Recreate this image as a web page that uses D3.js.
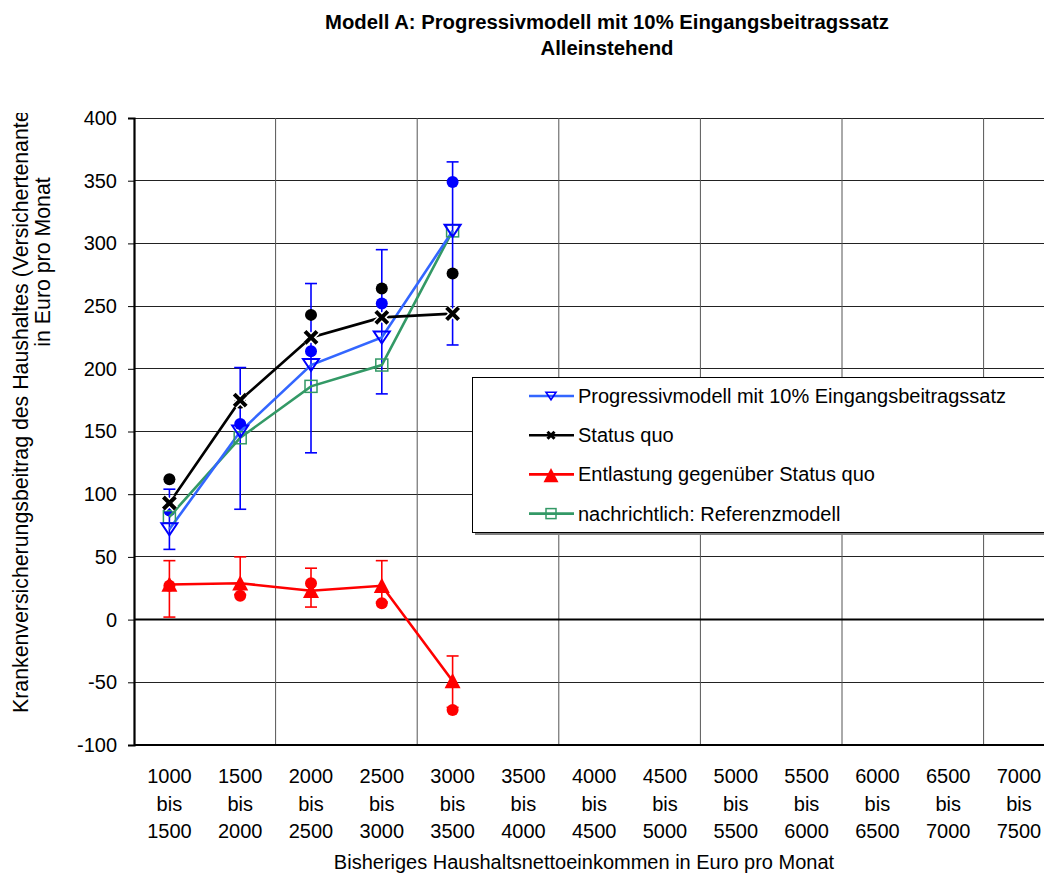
<!DOCTYPE html>
<html><head><meta charset="utf-8">
<script src="https://cdn.jsdelivr.net/npm/d3@7"></script>
<style>html,body{margin:0;padding:0;background:#fff;overflow:hidden}svg{display:block;font-family:"Liberation Sans",Arial,sans-serif}</style>
</head><body>
<svg id="chart" width="1044" height="880"></svg>
<script>
// ---- data ----
const categories = ["1000 bis 1500","1500 bis 2000","2000 bis 2500","2500 bis 3000","3000 bis 3500","3500 bis 4000","4000 bis 4500","4500 bis 5000","5000 bis 5500","5500 bis 6000","6000 bis 6500","6500 bis 7000","7000 bis 7500"];
const yTicks = [-100,-50,0,50,100,150,200,250,300,350,400];
const progressiv = [72, 150, 203, 225, 310];
const statusQuo = [93, 175, 225, 241, 244];
const entlastung = [28, 29, 23, 27, -49];
const referenz = [82, 145, 186, 203, 310];
const blueDots = [87, 156, 214, 252, 349];
const blackDots = [112, 173, 243, 264, 276];
const redDots = [27, 19, 29, 13, -72];
const blueErrLow = [56, 88, 133, 180, 219];
const blueErrHigh = [104, 201, 268, 295, 365];
const redErrLow = [2, 20, 10, 14, -70];
const redErrHigh = [47, 50, 41, 47, -29];
const legendLabels = ["Progressivmodell mit 10% Eingangsbeitragssatz","Status quo","Entlastung gegenüber Status quo","nachrichtlich: Referenzmodell"];

const svg = d3.select("#chart");
const L = 134, T = 118, B = 745, bw = 70.8;
const x = d3.scaleBand().domain(categories).range([L, L + bw*categories.length]).padding(0);
const y = d3.scaleLinear().domain([-100, 400]).range([B, T]);
const cx = i => x(categories[i]) + x.bandwidth()/2;

const FS = 20;
// title
svg.append("text").attr("x",607).attr("y",29).attr("text-anchor","middle").attr("font-size",20.3).attr("font-weight","bold").text("Modell A: Progressivmodell mit 10% Eingangsbeitragssatz");
svg.append("text").attr("x",607).attr("y",55).attr("text-anchor","middle").attr("font-size",20.3).attr("font-weight","bold").text("Alleinstehend");

// grid
const g = svg.append("g");
g.selectAll("line.h").data(yTicks).join("line").attr("x1",L).attr("x2",1044).attr("y1",d=>y(d)).attr("y2",d=>y(d)).attr("stroke","#222").attr("stroke-width",1).attr("shape-rendering","crispEdges");
const vIdx = categories.map((c,i)=>i).filter(i=>i>0 && i%2===0);
g.selectAll("line.v").data(vIdx).join("line").attr("x1",i=>x(categories[i])).attr("x2",i=>x(categories[i])).attr("y1",T).attr("y2",B).attr("stroke","#555").attr("stroke-width",1);
// zero line
g.append("line").attr("x1",L).attr("x2",1044).attr("y1",y(0)).attr("y2",y(0)).attr("stroke","#000").attr("stroke-width",2);
// axes
const yAxis = d3.axisLeft(y).tickValues(yTicks).tickFormat(d=>String(d)).tickSize(6).tickPadding(11);
const ya = svg.append("g").attr("transform",`translate(${L},0)`).call(yAxis);
ya.select(".domain").attr("stroke-width",2.2);
ya.selectAll(".tick line").attr("stroke-width",1);
ya.selectAll("text").attr("font-size",FS).attr("font-family","Liberation Sans, Arial, sans-serif");
svg.append("line").attr("x1",L).attr("x2",1044).attr("y1",B).attr("y2",B).attr("stroke","#000").attr("stroke-width",2);

// x labels
const xl = svg.append("g");
categories.forEach((c,i)=>{
  const parts = c.split(" ");
  const t = xl.append("text").attr("text-anchor","middle").attr("font-size",FS);
  parts.forEach((p,k)=>t.append("tspan").attr("x",cx(i)).attr("y",783+k*27.5).text(p));
});
svg.append("text").attr("x",584).attr("y",869).attr("text-anchor","middle").attr("font-size",FS).text("Bisheriges Haushaltsnettoeinkommen in Euro pro Monat");

// y title
svg.append("clipPath").attr("id","ytclip").append("rect").attr("x",0).attr("y",113).attr("width",80).attr("height",700);
svg.append("g").attr("clip-path","url(#ytclip)")
  .append("text").attr("transform","translate(27.5,713) rotate(-90)").attr("text-anchor","start").attr("font-size",21.3).text("Krankenversicherungsbeitrag des Haushaltes (Versichertenanteil)");
svg.append("text").attr("transform","translate(49.5,262) rotate(-90)").attr("text-anchor","middle").attr("font-size",21.3).text("in Euro pro Monat");

// error bars
function errBars(lo, hi, color){
  const eg = svg.append("g").attr("stroke",color).attr("stroke-width",1.6);
  lo.forEach((l,i)=>{
    eg.append("line").attr("x1",cx(i)).attr("x2",cx(i)).attr("y1",y(l)).attr("y2",y(hi[i]));
    eg.append("line").attr("x1",cx(i)-6).attr("x2",cx(i)+6).attr("y1",y(l)).attr("y2",y(l));
    eg.append("line").attr("x1",cx(i)-6).attr("x2",cx(i)+6).attr("y1",y(hi[i])).attr("y2",y(hi[i]));
  });
}
errBars(blueErrLow, blueErrHigh, "#0000FF");
errBars(redErrLow, redErrHigh, "#FF0000");

// dots
function dots(vals, color){
  svg.append("g").selectAll("circle").data(vals).join("circle").attr("cx",(d,i)=>cx(i)).attr("cy",d=>y(d)).attr("r",6).attr("fill",color);
}
dots(blackDots,"#000");
dots(blueDots,"#0000FF");
dots(redDots,"#FF0000");

// lines
const line = d3.line().x((d,i)=>cx(i)).y(d=>y(d));
function drawLine(vals,color){
  svg.append("path").datum(vals).attr("d",line).attr("fill","none").attr("stroke",color).attr("stroke-width",2.6);
}
drawLine(referenz,"#339966");
drawLine(progressiv,"#3366FF");
drawLine(statusQuo,"#000");
drawLine(entlastung,"#FF0000");

// markers
const triDown = s => `M${-s},${-0.75*s}L${s},${-0.75*s}L0,${0.75*s}Z`;
const triUp = s => `M0,${-s}L${s},${0.9*s}L${-s},${0.9*s}Z`;
function markSquare(gg, xx, yy, s){ gg.append("rect").attr("x",xx-s).attr("y",yy-s).attr("width",2*s).attr("height",2*s).attr("fill","none").attr("stroke","#339966").attr("stroke-width",1.5); }
function markTriDown(gg,xx,yy,s,sw){ gg.append("path").attr("d",triDown(s)).attr("transform",`translate(${xx},${yy})`).attr("fill","none").attr("stroke","#0000FF").attr("stroke-width",sw); }
function markTriUp(gg,xx,yy,s){ gg.append("path").attr("d",triUp(s)).attr("transform",`translate(${xx},${yy})`).attr("fill","#FF0000"); }
function markX(gg,xx,yy,s,sw,halo){
  const m = gg.append("g").attr("transform",`translate(${xx},${yy})`);
  if(halo){
    m.append("path").attr("d",`M${-s},${-s}L${s},${s}M${-s},${s}L${s},${-s}`).attr("stroke","#fff").attr("stroke-width",sw+3);
  }
  m.append("path").attr("d",`M${-s},${-s}L${s},${s}M${-s},${s}L${s},${-s}`).attr("stroke","#000").attr("stroke-width",sw);
}
const mg = svg.append("g");
referenz.forEach((d,i)=>markSquare(mg,cx(i),y(d),6));
progressiv.forEach((d,i)=>markTriDown(mg,cx(i),y(d),8,2));
statusQuo.forEach((d,i)=>markX(mg,cx(i),y(d),6,4,true));
entlastung.forEach((d,i)=>markTriUp(mg,cx(i),y(d),8));

// legend
const lg = svg.append("g");
lg.append("rect").attr("x",475).attr("y",380).attr("width",620).attr("height",155).attr("fill","#808080");
lg.append("rect").attr("x",472.5).attr("y",377.5).attr("width",620).attr("height",155).attr("fill","#fff").attr("stroke","#000").attr("stroke-width",1);
const legColors = ["#3366FF","#000","#FF0000","#339966"];
legendLabels.forEach((lab,k)=>{
  const ly = 396 + k*39.2;
  lg.append("line").attr("x1",529).attr("x2",574).attr("y1",ly).attr("y2",ly).attr("stroke",legColors[k]).attr("stroke-width",2.6);
  if(k===0) markTriDown(lg,551,ly,5,1.6);
  if(k===1) markX(lg,551,ly,3.5,3,false);
  if(k===2) markTriUp(lg,551,ly+1,7.5);
  if(k===3) markSquare(lg,551,ly,5);
  lg.append("text").attr("x",578).attr("y",ly+7).attr("font-size",FS).text(lab);
});
</script>
</body></html>
